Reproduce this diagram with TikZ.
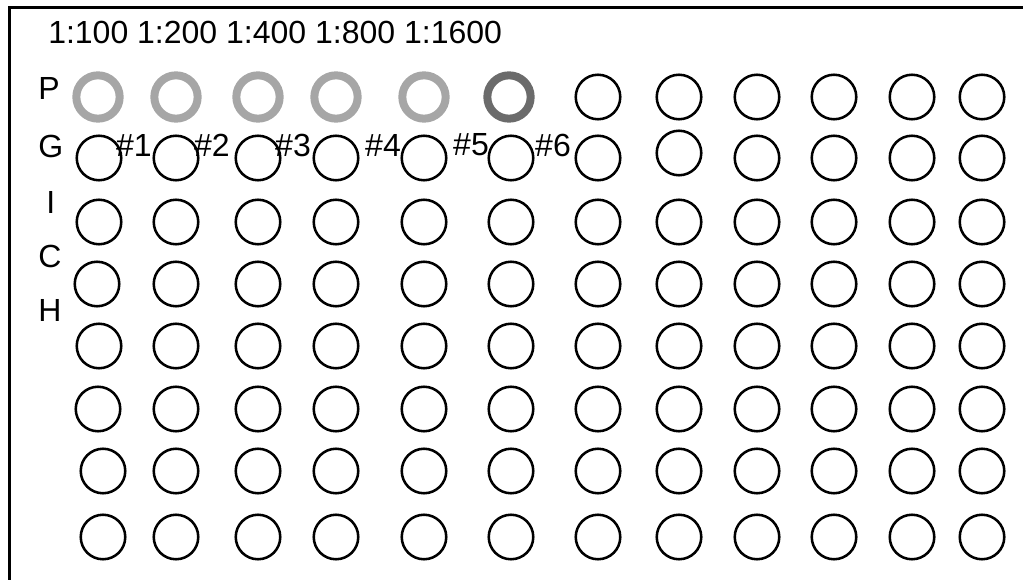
\documentclass[tikz,border=0pt]{standalone}
\usepackage{fontspec}
\setmainfont{Liberation Sans}
\definecolor{pgray}{HTML}{A6A6A6}
\definecolor{dgray}{HTML}{6B6B6B}
\begin{document}
\begin{tikzpicture}[x=0.75pt,y=-0.75pt,
  well/.style={circle,draw=black,line width=1.9pt,minimum size=33.4pt,inner sep=0pt},
  pwell/.style={circle,draw=pgray,line width=6pt,minimum size=32.5pt,inner sep=0pt},
  dwell/.style={pwell,draw=dgray},
  lbl/.style={font=\fontsize{24}{28}\selectfont,inner sep=0pt}]
\useasboundingbox (0,0) rectangle (1023,580);
\draw[line width=2.2pt] (9.5,620) -- (9.5,7.5) -- (1060,7.5);
% dilution header
\node[lbl,anchor=west] (dil) at (48,32) {1:100 1:200 1:400 1:800 1:1600};
% row letters
\node[lbl,anchor=west] (lP) at (38,88) {P};
\node[lbl,anchor=west] (lG) at (38,146) {G};
\node[lbl,anchor=west] (lI) at (46,202) {I};
\node[lbl,anchor=west] (lC) at (38,256) {C};
\node[lbl,anchor=west] (lH) at (38,310) {H};
% sample numbers
\foreach \n/\x in {1/134,2/212,3/293,4/383,5/471,6/553}
  \node[lbl] (s\n) at (\x,145) {\#\n};
% row P
\foreach \x [count=\c] in {98,176,258,336,424}
  \node[pwell] (w1-\c) at (\x,97) {};
\node[dwell] (w1-6) at (509,97) {};
\foreach \x [count=\c from 7] in {598,679,757,834,912,982}
  \node[well] (w1-\c) at (\x,97) {};
% other rows
\foreach \r/\y/\xs in {
  2/158/{99,176,258,336,424,511,598,679,757,834,912,982},
  3/222/{99,176,258,336,424,511,598,679,757,834,912,982},
  4/284/{97,176,258,336,424,511,598,679,757,834,912,982},
  5/346/{99,176,258,336,424,511,598,679,757,834,912,982},
  6/409/{98,176,258,336,424,511,598,679,757,834,912,982},
  7/471/{103,176,258,336,424,511,598,679,757,834,912,982},
  8/537/{103,176,258,336,424,511,598,679,757,834,912,982}}
{
  \foreach \x [count=\c] in \xs {
    \pgfmathsetmacro\yy{(\r==2 && \c==8) ? \y-5 : \y}
    \node[well] (w\r-\c) at (\x,\yy) {};
  }
}
\end{tikzpicture}
\end{document}
